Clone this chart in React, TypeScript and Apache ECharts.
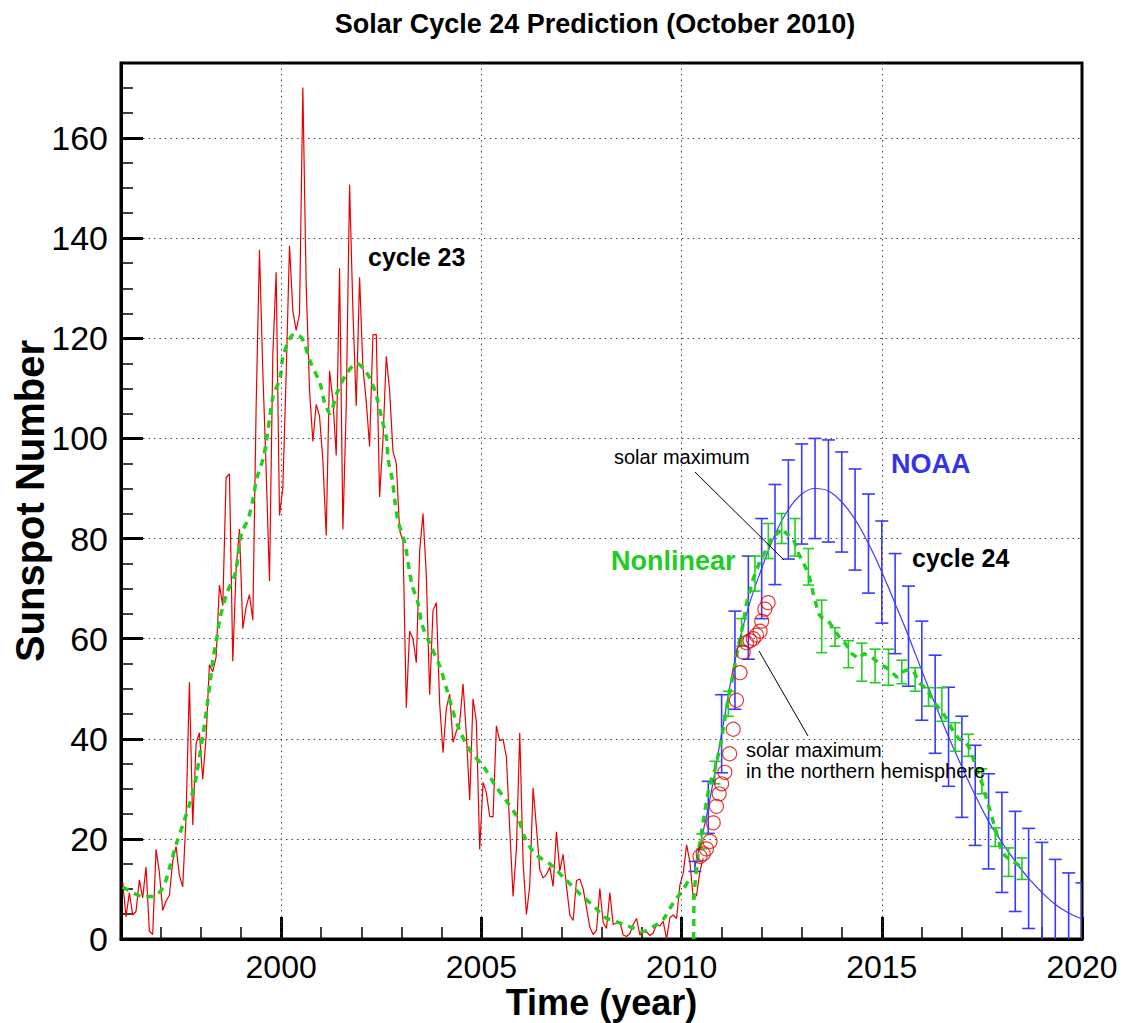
import React, { useEffect, useRef } from "react";
import * as echarts from "echarts";

// ---- Data -----------------------------------------------------------
const monthlyStartYear = 1996;
const monthlySunspots = [
  11.5, 4.4, 9.2, 4.8, 5.5, 11.8, 8.2, 14.4, 1.6, 0.9, 17.9, 13.3,
  5.7, 7.6, 8.7, 15.5, 18.5, 12.7, 10.4, 24.4, 51.3, 22.8, 39.0, 41.2,
  31.9, 40.3, 54.8, 53.4, 56.3, 70.7, 66.6, 92.2, 92.9, 55.5, 74.0, 81.9,
  62.0, 66.3, 68.8, 63.7, 106.4, 137.7, 113.5, 93.7, 71.5, 116.7, 133.2, 84.6,
  90.1, 112.9, 138.5, 125.5, 121.6, 124.9, 170.1, 130.5, 109.7, 99.4, 106.8, 104.4,
  95.6, 80.6, 113.5, 107.7, 96.6, 134.0, 81.8, 106.4, 150.7, 125.5, 106.5, 132.2,
  114.1, 107.4, 98.4, 120.7, 120.8, 88.3, 99.6, 116.4, 109.6, 97.5, 95.0, 81.6,
  79.5, 46.2, 61.5, 60.0, 55.2, 77.4, 85.0, 72.7, 48.8, 65.6, 67.2, 47.0,
  37.2, 46.0, 48.9, 39.3, 41.5, 43.2, 51.0, 40.9, 27.7, 48.0, 43.5, 17.9,
  31.3, 29.2, 24.5, 24.4, 42.6, 39.6, 39.9, 36.4, 22.1, 8.5, 18.0, 41.2,
  15.3, 4.9, 10.6, 30.2, 22.3, 13.9, 12.2, 12.9, 14.4, 10.5, 21.4, 13.6,
  16.9, 10.6, 4.8, 3.7, 11.7, 12.0, 10.0, 6.2, 2.4, 0.9, 1.7, 10.1,
  3.3, 2.1, 9.3, 2.9, 3.2, 3.4, 0.8, 0.5, 1.1, 2.9, 4.1, 0.8,
  1.5, 1.4, 0.7, 1.2, 2.9, 2.6, 3.5, 0.0, 4.3, 4.8, 4.1, 10.8,
  13.2, 18.8, 15.4, 8.0, 8.7, 13.6, 16.1,
];

const smoothYears = [
  1996.04, 1996.3, 1996.55, 1996.8, 1997.05, 1997.22, 1997.39, 1997.56, 1997.72, 1997.89,
  1998.05, 1998.14, 1998.22, 1998.3, 1998.39, 1998.47, 1998.64, 1998.85, 1998.93, 1999.01,
  1999.18, 1999.3, 1999.39, 1999.55, 1999.64, 1999.72, 1999.8, 1999.97, 2000.05, 2000.26,
  2000.4, 2000.55, 2000.72, 2000.97, 2001.09, 2001.22, 2001.39, 2001.64, 2001.89, 2002.05,
  2002.22, 2002.38, 2002.51, 2002.63, 2002.67, 2002.78, 2002.84, 2002.92, 2003.09, 2003.26,
  2003.42, 2003.51, 2003.71, 2003.96, 2004.13, 2004.26, 2004.44, 2004.73, 2005.05, 2005.36,
  2005.59, 2005.92, 2006.09, 2006.34, 2006.71, 2007.09, 2007.46, 2007.88, 2008.04, 2008.42,
  2008.79, 2009.04, 2009.38, 2009.54, 2009.79, 2010.04, 2010.16,
];
const smoothValues = [
  10.4, 9.2, 8.5, 8.5, 10.3, 14.5, 19.2, 23.2, 27.2, 33,
  41, 46, 51, 56, 60, 64, 69, 73, 77, 81,
  84, 88, 92, 96, 100, 104.5, 108.5, 112, 116.5, 120.5,
  120.8, 119.5, 115.5, 111, 107, 105, 109, 113, 115, 114,
  112, 108.5, 104, 100, 96, 91.5, 87.5, 83.5, 79, 71,
  67, 63, 59, 54.5, 50, 46.3, 42, 37.5, 34.5, 30.5,
  28, 24, 20.2, 17, 15, 12, 9, 6, 4.5, 3.3,
  2.2, 1.5, 2.9, 3.9, 7.2, 9.9, 11.5,
];

const nonlinYears = [
  2010.3, 2010.31, 2010.4, 2010.55, 2010.7, 2010.84, 2011.0, 2011.13, 2011.29, 2011.42,
  2011.54, 2011.62, 2011.79, 2011.96, 2012.13, 2012.28, 2012.4, 2012.49, 2012.62, 2012.79,
  2012.92, 2013.05, 2013.17, 2013.29, 2013.42, 2013.5, 2013.67, 2013.8, 2013.92, 2014.09,
  2014.25, 2014.42, 2014.55, 2014.71, 2014.92, 2015.05, 2015.17, 2015.38, 2015.55, 2015.7,
  2015.8, 2015.92, 2016.12, 2016.33, 2016.5, 2016.62, 2016.75, 2016.92, 2017.05, 2017.17,
  2017.33, 2017.5, 2017.67, 2017.84, 2018.0, 2018.17, 2018.34, 2018.46,
];
const nonlinValues = [
  0, 9, 16, 24, 31, 34, 40, 46.5, 53, 58.5,
  63, 67, 72, 75.5, 78, 80.5, 81, 82, 81, 80,
  77, 75, 73, 69, 65, 64.2, 63.5, 62, 60.5, 59,
  57, 56, 57, 56.5, 55.2, 54.5, 53.9, 52.3, 53.5, 53.9,
  53.5, 51.2, 50, 47, 45.5, 44, 42, 40, 39.5, 38.5,
  35, 31.2, 26.5, 21.9, 17.2, 16, 15.2, 14.5,
];

const nonlinBarYears = [
  2010.5, 2010.833, 2011.167, 2011.5, 2011.833, 2012.167, 2012.5, 2012.833, 2013.167, 2013.5,
  2013.833, 2014.167, 2014.5, 2014.833, 2015.167, 2015.5, 2015.833, 2016.167, 2016.5, 2016.833,
  2017.167, 2017.5, 2017.833, 2018.167, 2018.5,
];
const nonlinBarHigh = [
  21, 35.5, 49.5, 64, 76.5, 83, 85, 84, 78, 67.7,
  62.2, 59.6, 59.1, 57.9, 57.9, 55.7, 54.2, 50.2, 50.2, 43.2,
  40.9, 34, 22.2, 18.2, 16.2,
];
const nonlinBarLow = [
  18, 31, 44.5, 58.5, 69.5, 76, 79, 76.5, 70.7, 57.2,
  58.5, 54.2, 51.5, 51.2, 50.7, 51, 49.5, 46.5, 43.5, 37.5,
  36.5, 29, 18.5, 12.5, 11.9,
];

const noaaYears = [
  2010.333, 2010.667, 2011.0, 2011.333, 2011.667, 2012.0, 2012.333, 2012.667, 2013.0, 2013.333,
  2013.667, 2014.0, 2014.333, 2014.667, 2015.0, 2015.333, 2015.667, 2016.0, 2016.333, 2016.667,
  2017.0, 2017.333, 2017.667, 2018.0, 2018.333, 2018.667, 2019.0, 2019.333, 2019.667, 2020.0,
];
const noaaMid = [
  14.5, 26.3, 41, 55.7, 66.2, 74, 80.8, 85.8, 88.9, 90,
  89.5, 87.3, 83.8, 79, 73.3, 67, 60.5, 53.6, 46.9, 40.4,
  34.4, 28.7, 23.5, 19.3, 15.5, 12.1, 9.3, 6.9, 5.2, 4.0,
];
const noaaErr = [
  1, 5.2, 7.8, 9.8, 10.3, 10, 10, 9.9, 10, 10,
  10.2, 10, 10.1, 9.9, 10.2, 10, 10, 9.9, 9.8, 9.9,
  10.1, 10, 9.5, 10, 10, 10, 10, 9, 8, 7.2,
];

const northYears = [
  2010.46, 2010.54, 2010.62, 2010.71, 2010.79, 2010.87, 2010.94, 2011.0, 2011.08, 2011.2,
  2011.29, 2011.37, 2011.46, 2011.54, 2011.62, 2011.71, 2011.79, 2011.87, 2011.96, 2012.0,
  2012.08, 2012.16,
];
const northValues = [
  16.5, 17, 18, 19.5, 23.2, 26.5, 29, 31, 33.3, 37,
  41.9, 47.7, 53.2, 57.3, 59.2, 59.6, 60, 60.7, 61.5, 63.5,
  65.9, 67.2,
];

const xMajorTicks = [2000, 2005, 2010, 2015, 2020];
const xGridYears = [2000, 2005, 2010, 2015];
const yMajorTicks = [0, 20, 40, 60, 80, 100, 120, 140, 160];

// ---- Styles ---------------------------------------------------------
const FONT = "'Liberation Sans', Arial, Helvetica, sans-serif";
const RED = "#e80000";
const GREEN = "#1fd01f";
const BLUE = "#3a3aff";

function errorBarRenderer(color: string, halfCap: number) {
  return (params: any, api: any) => {
    const x = api.value(0);
    const lo = api.value(1);
    const hi = api.value(2);
    const pHi = api.coord([x, hi]);
    const pLo = api.coord([x, lo]);
    const style = { stroke: color, lineWidth: 1.6 };
    return {
      type: "group",
      children: [
        { type: "line", shape: { x1: pHi[0], y1: pHi[1], x2: pLo[0], y2: pLo[1] }, style },
        { type: "line", shape: { x1: pHi[0] - halfCap, y1: pHi[1], x2: pHi[0] + halfCap, y2: pHi[1] }, style },
        { type: "line", shape: { x1: pLo[0] - halfCap, y1: pLo[1], x2: pLo[0] + halfCap, y2: pLo[1] }, style },
      ],
    };
  };
}

export default function App() {
  const ref = useRef<HTMLDivElement>(null);

  useEffect(() => {
    if (!ref.current) return;
    const chart = echarts.init(ref.current, undefined, { renderer: "svg" });

    const monthly = monthlySunspots.map((v, i) => [monthlyStartYear + (i + 0.5) / 12, v]);
    const smooth = smoothYears.map((y, i) => [y, smoothValues[i]]);
    const nonlin = nonlinYears.map((y, i) => [y, nonlinValues[i]]);
    const nonlinBars = nonlinBarYears.map((y, i) => [y, nonlinBarLow[i], nonlinBarHigh[i]]);
    const noaaLine = noaaYears.map((y, i) => [y, noaaMid[i]]);
    const noaaBars = noaaYears.map((y, i) => [y, noaaMid[i] - noaaErr[i], noaaMid[i] + noaaErr[i]]);
    const north = northYears.map((y, i) => [y, northValues[i]]);

    const gridDot = { color: "#444", width: 1, type: [1.5, 4] as any };
    const plain = (v: number) => String(v);

    const option: any = {
      animation: false,
      backgroundColor: "#fff",
      textStyle: { fontFamily: FONT },
      grid: {
        left: 121, top: 63, width: 961, height: 876,
        show: true, borderColor: "#000", borderWidth: 3, backgroundColor: "transparent",
        containLabel: false, outerBoundsMode: "none",
      },
      xAxis: [
        {
          type: "value", min: 1996, max: 2020, interval: 1, position: "bottom",
          axisLine: { show: true, onZero: false, lineStyle: { color: "#000", width: 3 } },
          axisTick: { show: true, inside: true, length: 12, lineStyle: { color: "#000", width: 1.5 } },
          axisLabel: { show: false },
          splitLine: { show: false },
        },
        {
          type: "value", min: 1996, max: 2020, position: "bottom",
          axisLine: { show: false, onZero: false },
          axisTick: { show: true, inside: true, length: 22, customValues: xMajorTicks, lineStyle: { color: "#000", width: 3 } },
          axisLabel: { show: true, customValues: xMajorTicks, formatter: plain, fontSize: 32, color: "#000", margin: 12, fontFamily: FONT },
          splitLine: { show: false },
          name: "Time (year)", nameLocation: "middle", nameGap: 45, nameMoveOverlap: false,
          nameTextStyle: { fontSize: 36, fontWeight: "bold", color: "#000", fontFamily: FONT, lineHeight: 36 },
        },
      ],
      yAxis: [
        {
          type: "value", min: 0, max: 175, interval: 20, position: "left",
          axisLine: { show: true, onZero: false, lineStyle: { color: "#000", width: 3 } },
          axisTick: { show: true, inside: true, length: 22, customValues: yMajorTicks, lineStyle: { color: "#000", width: 3 } },
          axisLabel: { show: true, customValues: yMajorTicks, formatter: plain, fontSize: 34, color: "#000", margin: 13, fontFamily: FONT },
          splitLine: { show: true, lineStyle: gridDot },
          name: "Sunspot Number", nameLocation: "middle", nameGap: 71, nameRotate: 90, nameMoveOverlap: false,
          nameTextStyle: { fontSize: 40, fontWeight: "bold", color: "#000", fontFamily: FONT },
        },
        {
          type: "value", min: 0, max: 175, interval: 5, position: "left",
          axisLine: { show: false, onZero: false },
          axisTick: { show: true, inside: true, length: 12, lineStyle: { color: "#000", width: 1.5 } },
          axisLabel: { show: false },
          splitLine: { show: false },
        },
      ],
      graphic: [
        {
          type: "text", x: 595, y: 24, z: 10,
          style: { text: "Solar Cycle 24 Prediction (October 2010)", fontSize: 27, fontWeight: "bold", fontFamily: FONT, fill: "#000", align: "center", verticalAlign: "middle" },
        },
        { type: "text", x: 368, y: 257, z: 10, style: { text: "cycle 23", fontSize: 25, fontWeight: "bold", fontFamily: FONT, fill: "#000", align: "left", verticalAlign: "middle" } },
        { type: "text", x: 912, y: 558, z: 10, style: { text: "cycle 24", fontSize: 25, fontWeight: "bold", fontFamily: FONT, fill: "#000", align: "left", verticalAlign: "middle" } },
        { type: "text", x: 891, y: 464, z: 10, style: { text: "NOAA", fontSize: 27, fontWeight: "bold", fontFamily: FONT, fill: "#3333ee", align: "left", verticalAlign: "middle" } },
        { type: "text", x: 611, y: 561, z: 10, style: { text: "Nonlinear", fontSize: 27, fontWeight: "bold", fontFamily: FONT, fill: "#22cc22", align: "left", verticalAlign: "middle" } },
        { type: "text", x: 614, y: 457, z: 10, style: { text: "solar maximum", fontSize: 20, fontFamily: FONT, fill: "#000", align: "left", verticalAlign: "middle" } },
        { type: "text", x: 746, y: 750, z: 10, style: { text: "solar maximum", fontSize: 20, fontFamily: FONT, fill: "#000", align: "left", verticalAlign: "middle" } },
        { type: "text", x: 746, y: 771, z: 10, style: { text: "in the northern hemisphere", fontSize: 20, fontFamily: FONT, fill: "#000", align: "left", verticalAlign: "middle" } },
        { type: "line", z: 10, shape: { x1: 695, y1: 472, x2: 784, y2: 560 }, style: { stroke: "#000", lineWidth: 1 } },
        { type: "line", z: 10, shape: { x1: 759, y1: 651, x2: 808, y2: 736 }, style: { stroke: "#000", lineWidth: 1 } },
      ],
      series: [
        {
          name: "grid-x", type: "line", data: [], silent: true, z: 1,
          markLine: {
            silent: true, symbol: "none", animation: false,
            label: { show: false },
            lineStyle: gridDot,
            data: xGridYears.map((y) => ({ xAxis: y })),
          },
        },
        {
          name: "monthly", type: "line", data: monthly, showSymbol: false, symbol: "none", z: 2,
          lineStyle: { color: RED, width: 1.2 },
        },
        {
          name: "smoothed", type: "line", data: smooth, showSymbol: false, symbol: "none", smooth: 0.3, z: 3,
          lineStyle: { color: GREEN, width: 3.5, type: [7, 6] },
        },
        {
          name: "noaaBars", type: "custom", data: noaaBars, clip: true, z: 4,
          renderItem: errorBarRenderer(BLUE, 6.5),
        },
        {
          name: "noaa", type: "line", data: noaaLine, showSymbol: false, symbol: "none", smooth: 0.4, z: 4,
          lineStyle: { color: BLUE, width: 1.2 },
        },
        {
          name: "nonlinBars", type: "custom", data: nonlinBars, clip: true, z: 5,
          renderItem: errorBarRenderer(GREEN, 5.5),
        },
        {
          name: "nonlinear", type: "line", data: nonlin, showSymbol: false, symbol: "none", z: 5,
          lineStyle: { color: GREEN, width: 3.5, type: [7, 6] },
        },
        {
          name: "north", type: "scatter", data: north, symbol: "circle", symbolSize: 14, z: 6,
          itemStyle: { color: "rgba(255,255,255,0)", borderColor: RED, borderWidth: 1.2 },
        },
      ],
    };

    chart.setOption(option);
    return () => chart.dispose();
  }, []);

  return (
    <div
      ref={ref}
      style={{ position: "fixed", left: 0, top: 0, width: 1127, height: 1023, background: "#fff" }}
    />
  );
}
